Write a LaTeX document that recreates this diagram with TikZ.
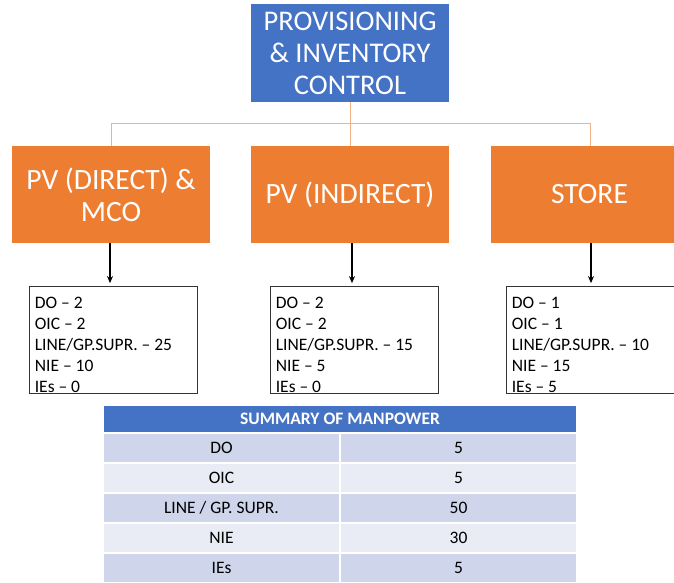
\documentclass[tikz,border=0pt]{standalone}
\usepackage{fontspec}
\setmainfont{Carlito}
\usetikzlibrary{arrows.meta,calc}
\definecolor{hdrblue}{HTML}{4472C4}
\definecolor{unitorange}{HTML}{ED7D31}
\definecolor{linkorange}{HTML}{F4B183}
\definecolor{rowdark}{HTML}{CFD5EA}
\definecolor{rowlight}{HTML}{E9EBF5}
\begin{document}
\begin{tikzpicture}[x=1pt,y=-1pt,
  topbox/.style={fill=hdrblue, text=white, minimum width=198pt, minimum height=98pt,
    inner sep=0pt, align=center, font=\fontsize{28.5}{32}\selectfont},
  unitbox/.style={fill=unitorange, text=white, minimum width=198pt, minimum height=97pt,
    inner sep=0pt, align=center, font=\fontsize{29.5}{32}\selectfont},
  staffbox/.style={draw=black!80, line width=0.8pt, fill=white, minimum width=168pt,
    minimum height=107pt, inner sep=0pt},
  stafftext/.style={align=left, inner sep=0pt, font=\fontsize{17.5}{21}\selectfont},
  link/.style={draw=linkorange, line width=1pt},
  feed/.style={draw=black, line width=1.2pt, -{Stealth[length=7pt,width=6pt]}},
  hdrcell/.style={fill=hdrblue, text=white, draw=white, line width=1.2pt,
    minimum width=474pt, minimum height=28pt, inner sep=0pt,
    font=\fontsize{17.5}{20}\selectfont\bfseries},
  cell/.style={draw=white, line width=1.2pt, minimum width=237pt, minimum height=30pt,
    inner sep=0pt, font=\fontsize{17.5}{20}\selectfont},
  darkrow/.style={cell, fill=rowdark},
  lightrow/.style={cell, fill=rowlight}
]
\useasboundingbox (0,0) rectangle (674,582);
\fill[white] (0,0) rectangle (674,582);
\begin{scope}
\clip (0,0) rectangle (674,582);

% top of the hierarchy
\node[topbox] (pic) at (350,53) {PROVISIONING\\\& INVENTORY\\CONTROL};

% three sections
\node[unitbox] (pvd) at (111,194.5) {PV (DIRECT) \&\\MCO};
\node[unitbox] (pvi) at (350,194.5) {PV (INDIRECT)};
\node[unitbox] (sto) at (589.5,194.5) {STORE};

% orange branch lines
\coordinate (hub) at (350,123);
\coordinate (hl) at (111,123);
\coordinate (hr) at (590,123);
\draw[link] (pic.south) -- (hub);
\draw[link] (hl) -- (hr);
\draw[link] (hl) -- (hl |- pvd.north);
\draw[link] (hub) -- (hub |- pvi.north);
\draw[link] (hr) -- (hr |- sto.north);

% staff boxes
\node[staffbox] (s1) at (113,340) {};
\node[staffbox] (s2) at (354,340) {};
\node[staffbox] (s3) at (590,340) {};
\node[stafftext, anchor=north west] (t1) at ($(s1.north west)+(6,10.5)$)
  {DO – 2\\OIC – 2\\LINE/GP.SUPR. – 25\\NIE – 10\\IEs – 0};
\node[stafftext, anchor=north west] (t2) at ($(s2.north west)+(6,10.5)$)
  {DO – 2\\OIC – 2\\LINE/GP.SUPR. – 15\\NIE – 5\\IEs – 0};
\node[stafftext, anchor=north west] (t3) at ($(s3.north west)+(6,10.5)$)
  {DO – 1\\OIC – 1\\LINE/GP.SUPR. – 10\\NIE – 15\\IEs – 5};

% arrows into the staff boxes
\draw[feed] ($(pvd.south)+(-1,0)$) -- ($(s1.north)+(-3,-3)$);
\draw[feed] ($(pvi.south)+(2,0)$) -- ($(s2.north)+(-2,-3)$);
\draw[feed] ($(sto.south)+(1.5,0)$) -- ($(s3.north)+(1,-3)$);

% manpower summary table
\node[hdrcell] (th) at (340,419) {SUMMARY OF MANPOWER};
\node[darkrow]  (r1a) at (221.5,448) {DO};
\node[darkrow]  (r1b) at (458.5,448) {5};
\node[lightrow] (r2a) at (221.5,478) {OIC};
\node[lightrow] (r2b) at (458.5,478) {5};
\node[darkrow]  (r3a) at (221.5,508) {LINE / GP. SUPR.};
\node[darkrow]  (r3b) at (458.5,508) {50};
\node[lightrow] (r4a) at (221.5,538) {NIE};
\node[lightrow] (r4b) at (458.5,538) {30};
\node[darkrow]  (r5a) at (221.5,568) {IEs};
\node[darkrow]  (r5b) at (458.5,568) {5};
\end{scope}
\end{tikzpicture}
\end{document}
